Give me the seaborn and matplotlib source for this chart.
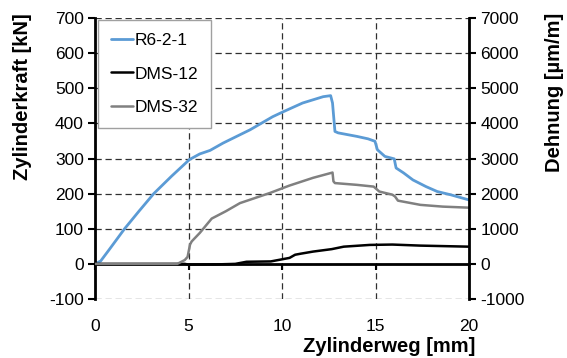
import matplotlib
matplotlib.use("Agg")
import matplotlib.pyplot as plt
import seaborn as sns
import pandas as pd
from matplotlib.lines import Line2D

sns.set_theme(style="white")
plt.rcParams["font.family"] = ["Liberation Sans", "DejaVu Sans"]
plt.rcParams["axes.unicode_minus"] = False
for key in ("text.color", "axes.labelcolor", "xtick.color", "ytick.color",
            "legend.labelcolor"):
    plt.rcParams[key] = "black"

# Cylinder force of specimen R6-2-1 [kN] over cylinder travel [mm]
r6_weg = [0, 0.3, 0.75, 1.58, 2.35, 3.14, 4.1, 5.05, 5.6, 6.15, 6.85, 8.3, 9.5,
          10.06, 11.1, 12.2, 12.6, 12.7, 12.83, 13.0, 14.0, 14.6, 14.97, 15.1,
          15.5, 16.0, 16.1, 16.5, 17.0, 17.7, 18.3, 19.0, 20.0]
r6_kraft = [0, 8, 40, 100, 150, 200, 250, 297, 313, 323, 344, 382, 419,
            433, 458, 476, 479, 458, 377, 373, 363, 356, 349, 325,
            306, 299, 273, 259, 239, 220, 206, 197, 182]

# Strain gauge DMS-12 [µm/m]
dms12_weg = [0, 4.8, 5.0, 6.5, 7.5, 8.1, 9.4, 10.4, 10.7, 11.0, 11.66, 12.66,
             13.3, 14.7, 15.9, 17.4, 20.0]
dms12_dehnung = [0, 0, -20, -15, 0, 60, 70, 170, 260, 290, 350, 420,
                 490, 540, 550, 520, 490]

# Strain gauge DMS-32 [µm/m]
dms32_weg = [0, 4.4, 4.8, 4.95, 5.08, 5.17, 5.6, 6.24, 7.0, 7.75, 9.36, 10.4,
             11.66, 12.7, 12.75, 12.83, 14.0, 14.9, 15.2, 15.9, 16.04, 16.2,
             17.4, 18.6, 20.0]
dms32_dehnung = [0, 0, 110, 200, 550, 640, 880, 1290, 1500, 1730, 2020, 2230,
                 2450, 2600, 2350, 2300, 2250, 2200, 2060, 1970, 1920, 1800,
                 1680, 1630, 1600]

x_ticks = [0, 5, 10, 15, 20]
kraft_ticks = list(range(-100, 701, 100))
dehnung_ticks = list(range(-1000, 7001, 1000))

c_blue = "#5B9BD5"
c_black = "#000000"
c_grey = "#808080"

df_r6 = pd.DataFrame({"weg": r6_weg, "wert": r6_kraft})
df_12 = pd.DataFrame({"weg": dms12_weg, "wert": dms12_dehnung})
df_32 = pd.DataFrame({"weg": dms32_weg, "wert": dms32_dehnung})

fig = plt.figure(figsize=(5.67, 3.58), dpi=100)
ax = fig.add_axes([0.1676, 0.1648, 0.6596, 0.7849])
ax2 = ax.twinx()

sns.lineplot(data=df_r6, x="weg", y="wert", ax=ax, color=c_blue, lw=2.0,
             sort=False, estimator=None, legend=False)
sns.lineplot(data=df_12, x="weg", y="wert", ax=ax2, color=c_black, lw=1.8,
             sort=False, estimator=None, legend=False)
sns.lineplot(data=df_32, x="weg", y="wert", ax=ax2, color=c_grey, lw=1.8,
             sort=False, estimator=None, legend=False)

ax.set_xlim(0, 20)
ax.set_ylim(-100, 700)
ax2.set_ylim(-1000, 7000)
ax.set_xticks(x_ticks)
ax.set_yticks(kraft_ticks)
ax2.set_yticks(dehnung_ticks)

grid_kw = dict(color="#303030", lw=0.9, linestyle=(0, (5, 3)))
ax.grid(True, axis="both", **grid_kw)
ax.set_axisbelow(True)

# Spines: thick left/right, horizontal axis crossing at zero
for a in (ax, ax2):
    a.spines["top"].set_visible(False)
ax.spines["left"].set_linewidth(2.0)
ax.spines["left"].set_color("black")
ax2.spines["right"].set_linewidth(2.0)
ax2.spines["right"].set_color("black")
ax.spines["right"].set_visible(False)
ax2.spines["left"].set_visible(False)
ax2.spines["bottom"].set_visible(False)
ax.spines["bottom"].set_position(("data", 0))
ax.spines["bottom"].set_linewidth(2.0)
ax.spines["bottom"].set_color("black")
ax.spines["bottom"].set_zorder(3)

ax.tick_params(axis="x", direction="out", length=4, width=1.5, color="black",
               labelcolor="black", pad=36, labelsize=12.5, bottom=True)
ax.tick_params(axis="y", direction="out", length=5, width=1.5, color="black",
               labelcolor="black", pad=3, labelsize=12.5, left=True)
ax2.tick_params(axis="y", direction="out", length=5, width=1.5, color="black",
                labelcolor="black", pad=3, labelsize=12.5, right=True)

ax.set_xlabel("Zylinderweg [mm]", fontsize=14.5, fontweight="bold", color="black")
ax.xaxis.set_label_coords(0.786, -0.135)
ax.set_ylabel("Zylinderkraft [kN]", fontsize=14.5, fontweight="bold", color="black")
ax.yaxis.set_label_coords(-0.168, 0.72)
ax2.set_ylabel("Dehnung [µm/m]", fontsize=14.5, fontweight="bold", color="black")
ax2.yaxis.set_label_coords(1.203, 0.737)

handles = [Line2D([], [], color=c_blue, lw=2.0),
           Line2D([], [], color=c_black, lw=1.8),
           Line2D([], [], color=c_grey, lw=1.8)]
leg = ax2.legend(handles, ["R6-2-1", "DMS-12", "DMS-32"], loc="upper left",
                 bbox_to_anchor=(0.008, 0.993), borderaxespad=0, fontsize=12.5,
                 frameon=True, fancybox=False, framealpha=1, edgecolor="#a0a0a0",
                 handlelength=1.25, handletextpad=0.1, labelspacing=1.05,
                 borderpad=0.75, labelcolor="black")
leg.get_frame().set_linewidth(1.0)

fig.savefig("out.png", dpi=100)
